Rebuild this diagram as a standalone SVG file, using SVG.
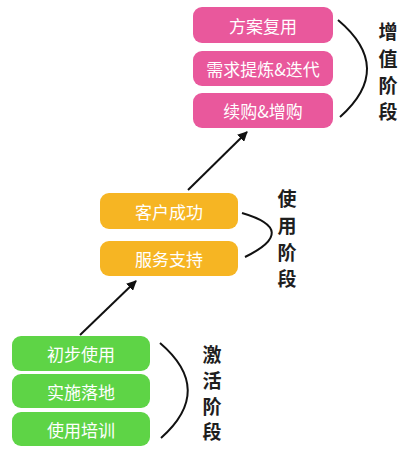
<svg xmlns="http://www.w3.org/2000/svg" width="411" height="471" viewBox="0 0 411 471">
<defs>
<style>
.box text{font-family:"Noto Sans CJK SC","Noto Sans",sans-serif;font-size:17px;fill:#fff;text-anchor:middle;dominant-baseline:central}
.pink rect{fill:#e9589c}
.yellow rect{fill:#f6b523}
.green rect{fill:#5ed446}
.lbl text{font-family:"Noto Sans CJK SC","Noto Sans",sans-serif;font-size:19px;font-weight:bold;fill:#1e1e1e;text-anchor:middle;dominant-baseline:central}
.brk{fill:none;stroke:#111;stroke-width:2}
.arr{fill:none;stroke:#111;stroke-width:2;marker-end:url(#ah)}
</style>
<marker id="ah" viewBox="0 0 10 10" refX="9" refY="5" markerWidth="5" markerHeight="5" orient="auto">
<path d="M0,0 L10,5 L0,10 z" fill="#111"/>
</marker>
</defs>
<rect width="411" height="471" fill="#fff"/>

<g id="connectors">
<path class="arr" d="M80,335 L136,281"/>
<path class="arr" d="M188,190 L247,132"/>
<path class="brk" d="M338,20 Q395,68 340,117"/>
<path class="brk" d="M242,213 Q300,230 245,257"/>
<path class="brk" d="M160,343 Q215,390 161,438"/>
</g>

<g id="n1" class="box pink"><rect x="193" y="7" width="140" height="36" rx="9"/><text x="263" y="25">方案复用</text></g>
<g id="n2" class="box pink"><rect x="193" y="51" width="140" height="35" rx="9"/><text x="263" y="68.5">需求提炼&amp;迭代</text></g>
<g id="n3" class="box pink"><rect x="193" y="93" width="140" height="35" rx="9"/><text x="263" y="110.5">续购&amp;增购</text></g>

<g id="n4" class="box yellow"><rect x="100" y="193" width="138" height="36" rx="9"/><text x="169" y="211">客户成功</text></g>
<g id="n5" class="box yellow"><rect x="100" y="241" width="138" height="35" rx="9"/><text x="169" y="258.5">服务支持</text></g>

<g id="n6" class="box green"><rect x="12" y="336" width="138" height="35" rx="9"/><text x="81" y="353.5">初步使用</text></g>
<g id="n7" class="box green"><rect x="12" y="374" width="138" height="34" rx="9"/><text x="81" y="391">实施落地</text></g>
<g id="n8" class="box green"><rect x="12" y="412" width="138" height="34" rx="9"/><text x="81" y="429">使用培训</text></g>

<g id="label-value" class="lbl">
<text x="388" y="30">增</text><text x="388" y="57">值</text><text x="388" y="84">阶</text><text x="388" y="110">段</text>
</g>
<g id="label-use" class="lbl">
<text x="287" y="197">使</text><text x="287" y="224">用</text><text x="287" y="251">阶</text><text x="287" y="277">段</text>
</g>
<g id="label-activate" class="lbl">
<text x="212" y="353">激</text><text x="212" y="379">活</text><text x="212" y="405">阶</text><text x="212" y="430">段</text>
</g>
</svg>
